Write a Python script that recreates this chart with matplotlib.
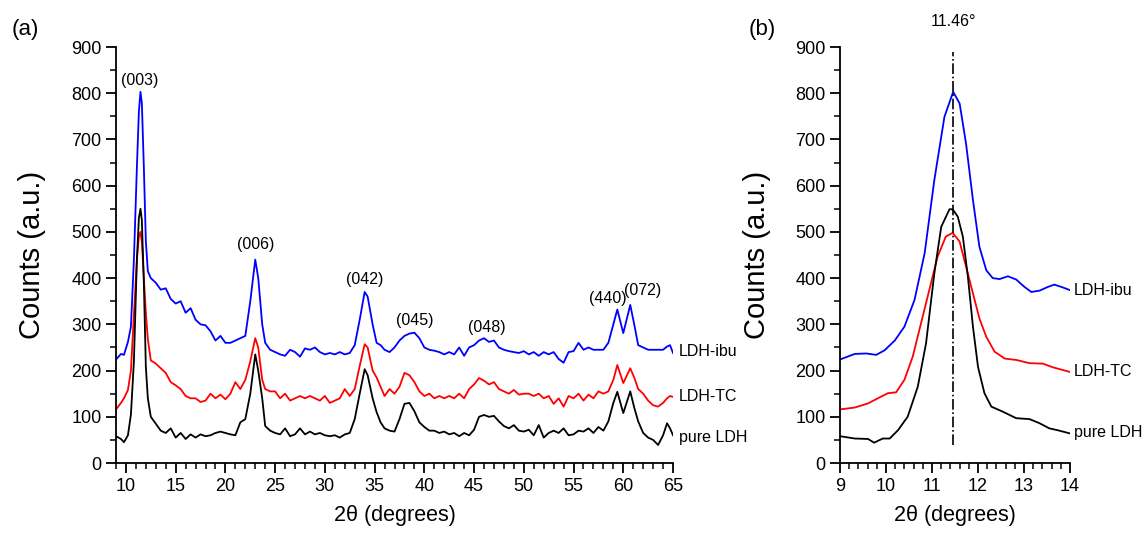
import numpy as np
import matplotlib
matplotlib.use('Agg')
import matplotlib.pyplot as plt
from matplotlib.ticker import MultipleLocator

plt.rcParams['font.family'] = ['Liberation Sans', 'DejaVu Sans']

# ---- panel (a): full scan ----
theta_a = [9, 9.5, 9.8, 10.2, 10.5, 10.8, 11.1, 11.3, 11.46, 11.6, 11.8, 12.0, 12.2, 12.5, 13, 13.5, 14, 14.5,
           15, 15.5, 16, 16.5, 17, 17.5, 18, 18.5, 19, 19.5, 20, 20.5, 21, 21.5, 22, 22.5,
           23, 23.3, 23.7, 24, 24.5, 25, 25.5, 26, 26.5, 27, 27.5, 28, 28.5, 29, 29.5, 30,
           30.5, 31, 31.5, 32, 32.5, 33, 33.5, 34, 34.3, 34.8, 35.2, 35.6, 36, 36.5, 37, 37.5,
           38, 38.5, 39, 39.5, 40, 40.5, 41, 41.5, 42, 42.5, 43, 43.5, 44, 44.5, 45, 45.5,
           46, 46.5, 47, 47.5, 48, 48.5, 49, 49.5, 50, 50.5, 51, 51.5, 52, 52.5, 53, 53.5,
           54, 54.5, 55, 55.5, 56, 56.5, 57, 57.5, 58, 58.5, 59, 59.4, 60.0, 60.7, 61.1, 61.5,
           62, 62.5, 63, 63.5, 64, 64.4, 64.7, 65]

pure_a = [58, 52, 45, 60, 105, 220, 440, 530, 550, 525, 390, 208, 140, 100, 85, 70, 65, 75,
          55, 65, 52, 62, 55, 62, 58, 60, 65, 68, 65, 62, 60, 88, 95, 150,
          235, 200, 140, 80, 70, 65, 62, 75, 58, 62, 75, 62, 68, 62, 65, 60,
          58, 60, 55, 62, 65, 95, 150, 203, 190, 140, 110, 88, 75, 70, 68, 95,
          128, 130, 112, 88, 78, 70, 70, 65, 68, 62, 65, 58, 65, 60, 72, 100,
          104, 100, 102, 90, 80, 75, 82, 70, 68, 72, 60, 82, 55, 65, 70, 65,
          75, 60, 62, 70, 68, 75, 65, 78, 70, 90, 130, 154, 108, 155, 120, 90,
          65, 55, 50, 39, 60, 86, 75, 60]

tc_a = [116, 130, 140, 158, 200, 320, 440, 490, 500, 479, 400, 325, 268, 222, 215, 205, 195, 175,
        168, 160, 145, 140, 140, 132, 135, 150, 140, 148, 138, 150, 175, 160, 180, 220,
        270, 250, 180, 160, 155, 155, 140, 150, 135, 140, 145, 140, 145, 140, 135, 145,
        130, 135, 140, 160, 145, 160, 210, 257, 250, 200, 185, 165, 145, 160, 150, 165,
        195, 190, 175, 155, 145, 150, 140, 145, 140, 145, 140, 150, 140, 160, 170, 184,
        178, 170, 175, 160, 155, 150, 158, 148, 150, 150, 145, 150, 140, 145, 128, 140,
        122, 145, 140, 150, 135, 148, 140, 155, 150, 155, 180, 212, 173, 205, 185, 160,
        150, 135, 125, 122, 130, 140, 145, 143]

ibu_a = [224, 236, 234, 262, 295, 440, 640, 760, 803, 778, 640, 480, 415, 400, 390, 375, 378, 355,
         345, 350, 325, 335, 310, 300, 298, 285, 265, 275, 260, 260, 265, 270, 275, 350,
         440, 400, 300, 260, 245, 240, 235, 232, 245, 240, 230, 248, 245, 250, 240, 235,
         238, 235, 240, 235, 238, 255, 310, 370, 360, 300, 260, 255, 245, 240, 250, 265,
         275, 280, 282, 270, 250, 245, 243, 240, 235, 240, 235, 250, 232, 250, 255, 265,
         270, 262, 265, 250, 245, 242, 240, 238, 242, 235, 240, 232, 240, 235, 240, 225,
         217, 240, 242, 260, 245, 250, 245, 245, 245, 260, 300, 332, 281, 342, 300, 255,
         250, 245, 245, 245, 245, 252, 255, 238]

# ---- panel (b): zoom on (003) ----
theta_b_ibu = [9.0, 9.32, 9.57, 9.79, 9.97, 10.19, 10.4, 10.62, 10.84, 11.05, 11.27, 11.46,
               11.6, 11.74, 11.89, 12.03, 12.18, 12.32, 12.47, 12.65, 12.83, 13.01, 13.16,
               13.34, 13.52, 13.66, 13.84, 14.0]
ibu_b = [224, 236, 237, 234, 244, 265, 295, 353, 454, 612, 749, 803,
         778, 691, 569, 468, 417, 400, 398, 404, 397, 381, 370,
         373, 381, 386, 380, 374]

theta_b_tc = [9.0, 9.32, 9.61, 9.86, 10.04, 10.22, 10.4, 10.58, 10.76, 10.94, 11.12, 11.3, 11.45,
              11.6, 11.74, 11.89, 12.03, 12.18, 12.36, 12.58, 12.83, 13.12, 13.41, 13.63, 14.0]
tc_b = [116, 120, 129, 142, 151, 153, 180, 230, 302, 374, 446, 490, 498,
        479, 425, 367, 313, 273, 241, 226, 223, 216, 215, 207, 197]

theta_b_pure = [9.0, 9.32, 9.61, 9.74, 9.93, 10.08, 10.26, 10.47, 10.69, 10.87, 11.05, 11.2,
                11.38, 11.45, 11.56, 11.67, 11.78, 11.89, 12.0, 12.14, 12.29, 12.54, 12.83,
                13.12, 13.34, 13.55, 13.73, 14.0]
pure_b = [58, 53, 52, 44, 53, 53, 71, 100, 165, 259, 410, 511,
          549, 549, 533, 490, 403, 295, 208, 151, 122, 111, 97,
          95, 86, 75, 71, 64]

peak_labels = ['(003)', '(006)', '(042)', '(045)', '(048)', '(440)', '(072)']
peak_x = [11.4, 23.0, 34.0, 39.0, 46.3, 58.4, 61.9]
peak_y = [828, 472, 398, 309, 294, 357, 374]

names = ['LDH-ibu', 'LDH-TC', 'pure LDH']
colors = ['#0000ff', '#ff0000', 'black']

fig = plt.figure(figsize=(11.44, 5.33), dpi=100)
ax1 = fig.add_axes([0.1014, 0.1313, 0.4869, 0.7805])
ax2 = fig.add_axes([0.7343, 0.1313, 0.2010, 0.7805])

def style(ax):
    for s in ['top', 'right']:
        ax.spines[s].set_visible(False)
    for s in ['left', 'bottom']:
        ax.spines[s].set_linewidth(1.3)
    ax.tick_params(which='major', direction='out', length=7, width=1.3, labelsize=13)
    ax.tick_params(which='minor', direction='out', length=4, width=1.1)
    ax.set_ylim(0, 900)
    ax.yaxis.set_major_locator(MultipleLocator(100))
    ax.yaxis.set_minor_locator(MultipleLocator(50))
    ax.set_ylabel('Counts (a.u.)', fontsize=21)
    ax.set_xlabel('2\u03b8 (degrees)', fontsize=15.5)
    ax.xaxis.set_label_coords(0.5, -0.1)

# panel (a)
for y, c in zip([ibu_a, tc_a, pure_a], colors):
    ax1.plot(theta_a, y, color=c, lw=1.3)
style(ax1)
ax1.set_xlim(9, 65)
ax1.xaxis.set_major_locator(MultipleLocator(5))
ax1.xaxis.set_minor_locator(MultipleLocator(1))
for lab, x, y in zip(peak_labels, peak_x, peak_y):
    ax1.text(x, y, lab, ha='center', va='center', fontsize=11.5)
for name, y in zip(names, [242, 143, 56]):
    ax1.text(65.6, y, name, ha='left', va='center', fontsize=11.5, clip_on=False)
ax1.yaxis.set_label_coords(-0.126, 0.5)

# panel (b)
ax2.plot(theta_b_ibu, ibu_b, color=colors[0], lw=1.3)
ax2.plot(theta_b_tc, tc_b, color=colors[1], lw=1.3)
ax2.plot(theta_b_pure, pure_b, color=colors[2], lw=1.3)
style(ax2)
ax2.set_xlim(9, 14)
ax2.xaxis.set_major_locator(MultipleLocator(1))
ax2.xaxis.set_minor_locator(MultipleLocator(0.2))
ax2.plot([11.46, 11.46], [40, 890], color='black', lw=1.2, ls='-.', clip_on=False)
ax2.text(11.46, 955, '11.46\u00b0', ha='center', va='center', fontsize=11.5, clip_on=False)
for name, y in zip(names, [374, 199, 65]):
    ax2.text(14.08, y, name, ha='left', va='center', fontsize=11.5, clip_on=False)
ax2.yaxis.set_label_coords(-0.30, 0.5)

fig.text(0.022, 0.945, '(a)', fontsize=16, ha='center', va='center')
fig.text(0.666, 0.945, '(b)', fontsize=16, ha='center', va='center')

fig.savefig('out.png', dpi=100)
